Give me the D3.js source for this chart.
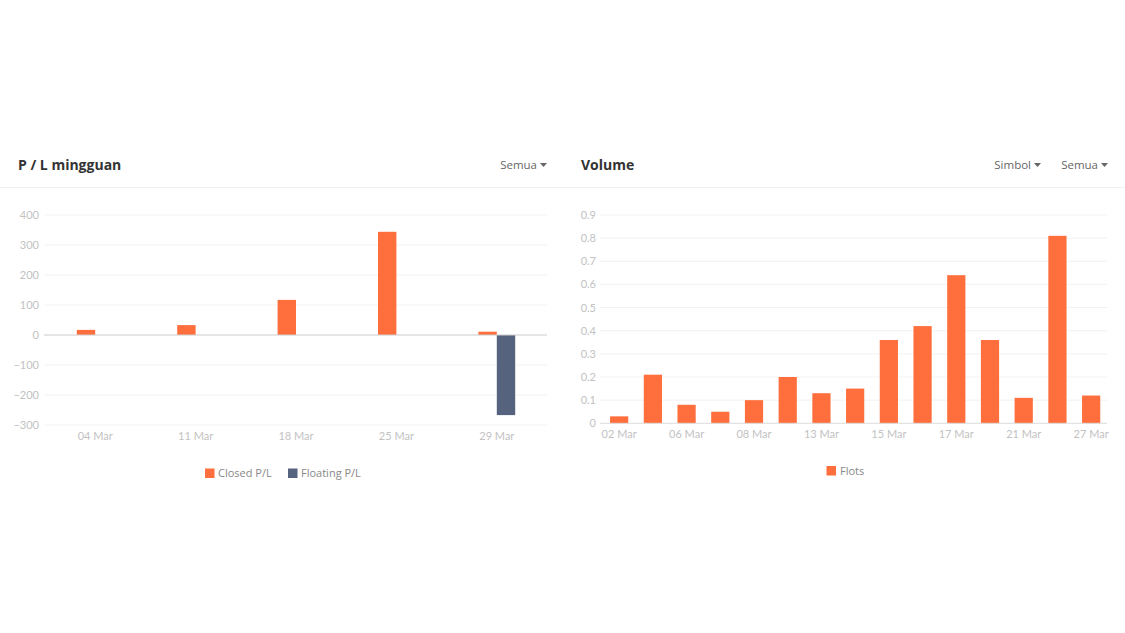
<!DOCTYPE html>
<html>
<head>
<meta charset="utf-8">
<script src="https://cdn.jsdelivr.net/npm/d3@7/dist/d3.min.js"></script>
<style>
html,body{margin:0;padding:0;background:#fff;}
svg{display:block;}
</style>
</head>
<body>
<svg id="chart" width="1125" height="633"></svg>
<script>
// ---- Data ----
const plWeeks = ["04 Mar", "11 Mar", "18 Mar", "25 Mar", "29 Mar"];
const plSeries = ["Closed P/L", "Floating P/L"];
const closedPL = [17, 33, 117, 344, 11];
const floatingPL = [0, 0, 0, 0, -267];
const plTicks = [-300, -200, -100, 0, 100, 200, 300, 400];

const volDays = ["02 Mar", "03 Mar", "06 Mar", "07 Mar", "08 Mar", "09 Mar", "13 Mar", "14 Mar",
                 "15 Mar", "16 Mar", "17 Mar", "20 Mar", "21 Mar", "23 Mar", "27 Mar"];
const volLots = [0.03, 0.21, 0.08, 0.05, 0.10, 0.20, 0.13, 0.15, 0.36, 0.42, 0.64, 0.36, 0.11, 0.81, 0.12];
const volTicks = [0, 0.1, 0.2, 0.3, 0.4, 0.5, 0.6, 0.7, 0.8, 0.9];
const volSeries = ["Flots"];

const ORANGE = "#ff6e3d";
const NAVY = "#56637e";
const AXISFONT = "Lato, 'Open Sans', sans-serif";
const HEADFONT = "'Open Sans', 'Noto Sans', sans-serif";
const AXISCOLOR = "#c2c2c2";

const svg = d3.select("#chart");

// ---- Headers ----
svg.append("line").attr("x1", 0).attr("x2", 1125).attr("y1", 187.5).attr("y2", 187.5)
  .attr("stroke", "#f0f0f0").attr("stroke-width", 1);

function header(x, text) {
  svg.append("text").attr("x", x).attr("y", 170).text(text)
    .attr("font-family", HEADFONT).attr("font-weight", 700).attr("font-size", 14).attr("fill", "#333");
}
function dropdown(xRight, text) {
  const g = svg.append("g");
  g.append("text").attr("x", xRight - 10).attr("y", 169).attr("text-anchor", "end").text(text)
    .attr("font-family", HEADFONT).attr("font-size", 11.5).attr("fill", "#666");
  g.append("path").attr("d", `M${xRight - 7},163 L${xRight},163 L${xRight - 3.5},167 Z`).attr("fill", "#666");
}
header(18, "P / L mingguan");
dropdown(547, "Semua");
header(581, "Volume");
dropdown(1041, "Simbol");
dropdown(1108, "Semua");

// ---- Left chart: P/L ----
{
  const x0 = d3.scaleBand().domain(plWeeks).range([45, 547]).padding(0);
  const y = d3.scaleLinear().domain([-300, 400]).range([425, 215]);
  const g = svg.append("g");

  g.selectAll(".grid").data(plTicks.filter(d => d !== 0)).join("line")
    .attr("x1", 45).attr("x2", 547).attr("y1", d => y(d)).attr("y2", d => y(d))
    .attr("stroke", "#f2f2f2").attr("stroke-width", 1);

  const ya = d3.axisLeft(y).tickValues(plTicks).tickSize(0).tickPadding(0);
  const yg = g.append("g").attr("transform", "translate(39,0)").call(ya);
  yg.select(".domain").remove();
  yg.selectAll("text").attr("font-family", AXISFONT).attr("font-size", 11).attr("fill", AXISCOLOR);

  const xa = d3.axisBottom(x0).tickSize(0).tickPadding(0);
  const xg = g.append("g").attr("transform", "translate(0,432.5)").call(xa);
  xg.select(".domain").remove();
  xg.selectAll("text").attr("font-family", AXISFONT).attr("font-size", 11).attr("fill", AXISCOLOR);

  const bw = 18.4;
  const x1 = d3.scaleBand().domain(plSeries).range([-bw, bw]).padding(0);
  const rows = plWeeks.map((w, i) => ({ w, vals: [closedPL[i], floatingPL[i]] }));
  const grp = g.selectAll(".grp").data(rows).join("g")
    .attr("transform", d => `translate(${x0(d.w) + x0.bandwidth() / 2},0)`);
  grp.selectAll("rect").data(d => d.vals.map((v, j) => ({ s: plSeries[j], v })).filter(o => o.v !== 0)).join("rect")
    .attr("x", d => x1(d.s)).attr("width", x1.bandwidth())
    .attr("y", d => Math.min(y(d.v), y(0))).attr("height", d => Math.abs(y(d.v) - y(0)))
    .attr("fill", d => d.s === plSeries[0] ? ORANGE : NAVY);

  g.append("line").attr("x1", 44).attr("x2", 547).attr("y1", y(0)).attr("y2", y(0))
    .attr("stroke", "#ccc").attr("stroke-width", 1);

  const colors = [ORANGE, NAVY];
  const lx = [205, 288];
  plSeries.forEach((s, i) => {
    g.append("rect").attr("x", lx[i]).attr("y", 468.5).attr("width", 9.5).attr("height", 9.5).attr("fill", colors[i]);
    g.append("text").attr("x", lx[i] + 13).attr("y", 477).text(s)
      .attr("font-family", HEADFONT).attr("font-size", 11).attr("fill", "#888");
  });
}

// ---- Right chart: Volume ----
{
  const x = d3.scaleBand().domain(volDays).range([602.3, 1108]).paddingInner(0.46).paddingOuter(0.23);
  const y = d3.scaleLinear().domain([0, 0.9]).range([423.3, 215]);
  const g = svg.append("g");

  g.selectAll(".grid").data(volTicks.filter(d => d !== 0)).join("line")
    .attr("x1", 600).attr("x2", 1107).attr("y1", d => y(d)).attr("y2", d => y(d))
    .attr("stroke", "#f2f2f2").attr("stroke-width", 1);

  const ya = d3.axisLeft(y).tickValues(volTicks).tickSize(0).tickPadding(0).tickFormat(d3.format("~g"));
  const yg = g.append("g").attr("transform", "translate(596,0)").call(ya);
  yg.select(".domain").remove();
  yg.selectAll("text").attr("font-family", AXISFONT).attr("font-size", 11).attr("fill", AXISCOLOR);

  g.selectAll(".bar").data(volDays.map((d, i) => ({ d, v: volLots[i] }))).join("rect")
    .attr("x", d => x(d.d)).attr("width", x.bandwidth())
    .attr("y", d => y(d.v)).attr("height", d => y(0) - y(d.v))
    .attr("fill", ORANGE);

  g.append("line").attr("x1", 600).attr("x2", 1107).attr("y1", y(0)).attr("y2", y(0))
    .attr("stroke", "#ddd").attr("stroke-width", 1);

  const xa = d3.axisBottom(x).tickSize(0).tickPadding(0)
    .tickValues(volDays.filter((d, i) => i % 2 === 0));
  const xg = g.append("g").attr("transform", "translate(0,430)").call(xa);
  xg.select(".domain").remove();
  xg.selectAll("text").attr("font-family", AXISFONT).attr("font-size", 11).attr("fill", AXISCOLOR);

  g.append("rect").attr("x", 826.5).attr("y", 466).attr("width", 9.5).attr("height", 9.5).attr("fill", ORANGE);
  g.append("text").attr("x", 840).attr("y", 474.5).text(volSeries[0])
    .attr("font-family", HEADFONT).attr("font-size", 11).attr("fill", "#888");
}
</script>
</body>
</html>
